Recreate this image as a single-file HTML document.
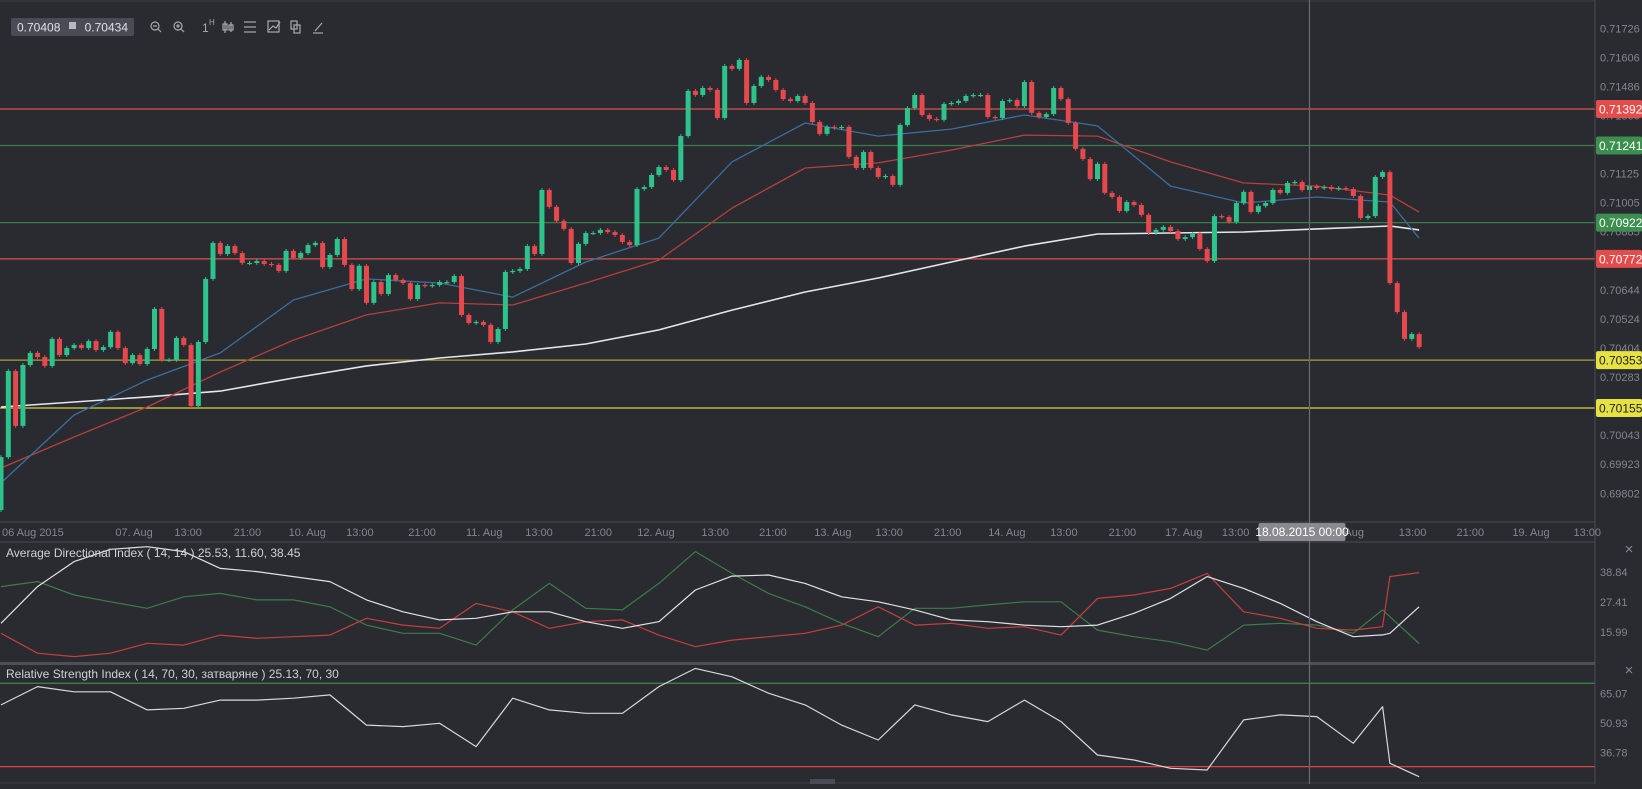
<!DOCTYPE html>
<html><head><meta charset="utf-8"><style>
html,body{margin:0;padding:0;background:#2a2a31;}
body{width:1642px;height:784px;overflow:hidden;position:relative;font-family:"Liberation Sans","DejaVu Sans",sans-serif;}
svg text{font-family:"Liberation Sans","DejaVu Sans",sans-serif;}
</style></head><body>
<svg id="chart" width="1642" height="784" viewBox="0 0 1642 784" xmlns="http://www.w3.org/2000/svg">
<rect x="0" y="0" width="1642" height="784" fill="#2a2a31"/>
<g id="main"></g>
<g id="adx"></g>
<g id="rsi"></g>
<g id="frame">
<line x1="0" y1="1" x2="1595" y2="1" stroke="#3c3c44"/>
<line x1="1595" y1="0" x2="1595" y2="784" stroke="#4a4a52"/>
<line x1="0" y1="522" x2="1595" y2="522" stroke="#4a4a52"/>
<line x1="0" y1="542" x2="1595" y2="542" stroke="#4a4a52"/>
<rect x="0" y="662" width="1595" height="3" fill="#4f4f57"/>
<line x1="0" y1="783" x2="1595" y2="783" stroke="#3c3c44"/>
<rect x="810" y="779" width="25" height="5" fill="#4a4a55"/>
<text x="1629" y="554" fill="#8a8a93" font-size="15" text-anchor="middle">×</text>
<text x="1629" y="675" fill="#8a8a93" font-size="15" text-anchor="middle">×</text>
<text x="6" y="557" fill="#d0d0d6" font-size="12">Average Directional Index ( 14, 14 ) 25.53, 11.60, 38.45</text>
<text x="6" y="678" fill="#d0d0d6" font-size="12">Relative Strength Index ( 14, 70, 30, затваряне ) 25.13, 70, 30</text>
</g>
<g id="toolbar">
<rect x="11" y="18" width="123" height="18" rx="2" fill="#4b4b55"/>
<text x="17" y="31.5" fill="#e0e0e6" font-size="12">0.70408</text>
<rect x="69" y="22" width="7" height="7" fill="#b8b8c0"/>
<text x="128" y="31.5" fill="#e0e0e6" font-size="12" text-anchor="end">0.70434</text>
<g fill="none" stroke="#a8a8b0" stroke-width="1.2">
<g><circle cx="155" cy="26" r="4"/><line x1="158" y1="29" x2="161" y2="32"/><line x1="153" y1="26" x2="157" y2="26"/></g>
<g><circle cx="178" cy="26" r="4"/><line x1="181" y1="29" x2="184" y2="32"/><line x1="176" y1="26" x2="180" y2="26"/><line x1="178" y1="24" x2="178" y2="28"/></g>
<g><line x1="225" y1="21" x2="225" y2="33"/><rect x="223" y="24" width="4" height="6"/><line x1="231" y1="22" x2="231" y2="32"/><rect x="229" y="25" width="4" height="5"/></g>
<g><line x1="244" y1="22" x2="256" y2="22"/><line x1="244" y1="27" x2="256" y2="27"/><line x1="244" y1="32" x2="256" y2="32"/></g>
<g><rect x="268" y="21" width="11" height="11"/><polyline points="269,30 273,26 276,28 280,22"/></g>
<g><rect x="291" y="21" width="6" height="8"/><rect x="294" y="25" width="6" height="8"/></g>
<g><line x1="315" y1="31" x2="322" y2="23"/><line x1="313" y1="33" x2="323" y2="33"/></g>
</g>
<text x="202" y="32" fill="#a8a8b0" font-size="12">1</text>
<text x="209" y="25" fill="#a8a8b0" font-size="8">H</text>
</g>
</svg>
<script>
// ---------- data ----------
const firstOpen = 0.69733;
const closes = [0.69952,0.70308,0.70081,0.70333,0.70383,0.70366,0.70329,0.70441,0.70374,0.70403,
0.70416,0.70403,0.70432,0.70395,0.70407,0.70470,0.70403,0.70341,0.70374,0.70337,
0.70399,0.70565,0.70354,0.70354,0.70445,0.70416,0.70163,0.70428,0.70689,0.70838,
0.70792,0.70825,0.70796,0.70755,0.70755,0.70763,0.70751,0.70747,0.70722,0.70805,
0.70776,0.70796,0.70829,0.70838,0.70738,0.70788,0.70854,0.70747,0.70647,0.70743,
0.70590,0.70676,0.70627,0.70705,0.70685,0.70672,0.70606,0.70664,0.70660,0.70664,
0.70676,0.70676,0.70701,0.70540,0.70507,0.70511,0.70499,0.70428,0.70482,0.70718,
0.70722,0.70730,0.70825,0.70792,0.71057,0.70987,0.70929,0.70896,0.70755,0.70834,
0.70879,0.70879,0.70892,0.70883,0.70871,0.70842,0.70829,0.71061,0.71069,0.71119,
0.71152,0.71140,0.71098,0.71280,0.71467,0.71450,0.71479,0.71471,0.71355,0.71570,
0.71558,0.71595,0.71417,0.71487,0.71525,0.71512,0.71471,0.71433,0.71425,0.71446,
0.71417,0.71338,0.71289,0.71318,0.71313,0.71318,0.71194,0.71148,0.71214,0.71148,
0.71111,0.71115,0.71078,0.71326,0.71396,0.71450,0.71367,0.71351,0.71347,0.71413,
0.71417,0.71425,0.71446,0.71450,0.71450,0.71359,0.71355,0.71425,0.71429,0.71404,
0.71504,0.71376,0.71359,0.71371,0.71479,0.71433,0.71334,0.71227,0.71185,0.71102,
0.71165,0.71045,0.71028,0.70970,0.71007,0.70995,0.70954,0.70879,0.70892,0.70904,
0.70887,0.70854,0.70862,0.70875,0.70813,0.70763,0.70949,0.70945,0.70925,0.71003,
0.71049,0.70966,0.70991,0.71003,0.71057,0.71045,0.71086,0.71090,0.71057,0.71073,
0.71065,0.71069,0.71061,0.71065,0.71061,0.71032,0.70941,0.70949,0.71111,0.71131,
0.70672,0.70552,0.70441,0.70461,0.70407];
const wick = 0.00008;

const maIdx = [0,10,20,30,40,50,60,70,80,90,100,110,120,130,140,150,160,170,180,190,194];
const maFast = [0.69845,0.70126,0.70271,0.70383,0.70602,0.70689,0.70672,0.70614,0.70759,0.70858,0.71173,0.71334,0.71280,0.71309,0.71367,0.71322,0.71073,0.71003,0.71028,0.71007,0.70858];
const maMid = [0.69907,0.70035,0.70159,0.70304,0.70436,0.70540,0.70590,0.70581,0.70672,0.70767,0.70982,0.71148,0.71169,0.71222,0.71284,0.71280,0.71173,0.71086,0.71073,0.71036,0.70966];
const maSlow = [0.70159,0.70180,0.70201,0.70225,0.70279,0.70329,0.70362,0.70387,0.70420,0.70478,0.70560,0.70635,0.70693,0.70759,0.70825,0.70875,0.70879,0.70883,0.70896,0.70908,0.70892];

const levelPrices = [0.71392,0.71241,0.70922,0.70772,0.70353,0.70155];
const levelKinds = ['red','green','green','red','olive','yellow'];
const priceTicks = [0.71726,0.71606,0.71486,0.71366,0.71125,0.71005,0.70885,0.70644,0.70524,0.70404,0.70283,0.70043,0.69923,0.69802];

const indIdx = [0,5,10,15,20,25,30,35,40,45,50,55,60,65,70,75,80,85,90,95,100,105,110,115,120,125,130,135,140,145,150,155,160,165,170,175,180,185,189,190,194];
const adxLine = [19.3,33.3,42.8,47.5,48.5,46.6,40.2,39.0,37.1,35.2,28.2,23.7,20.6,21.2,23.7,23.7,19.9,17.4,19.9,32.0,37.3,37.7,34.5,29.4,27.5,24.4,20.6,19.9,18.6,18.0,18.6,23.1,28.8,37.1,32.6,26.9,19.9,14.2,14.9,15.5,25.6];
const plusDI = [33.3,35.2,30.1,27.5,25.0,29.4,30.7,28.2,28.2,25.6,18.6,15.5,15.5,11.0,24.4,34.5,25.0,24.4,34.5,46.6,38.3,30.7,25.6,19.3,14.2,25.0,25.0,26.3,27.5,27.5,16.7,14.2,12.3,9.1,18.6,19.3,18.6,15.5,24.4,21.8,11.6];
const minusDI = [15.5,7.9,6.6,7.9,11.7,11.0,14.8,13.6,14.2,14.8,21.2,18.6,17.4,26.9,23.7,17.4,19.9,20.6,14.8,10.4,12.9,14.2,15.5,18.6,25.6,18.6,19.3,17.4,18.0,14.8,28.8,30.1,32.6,38.3,23.7,21.2,17.4,16.7,18.0,37.1,38.6];
const adxTicks = [38.84,27.41,15.99];
const rsiValues = [59.6,68.4,65.9,65.9,57.2,58.0,61.9,61.9,62.8,64.4,49.9,49.2,50.8,39.6,62.8,57.2,55.6,55.6,68.4,77.1,73.1,65.2,59.6,49.9,42.8,59.6,54.8,51.6,61.9,51.6,35.6,33.2,29.2,28.4,52.4,54.8,54.0,41.2,58.8,31.6,25.2];
const rsiTicks = [65.07,50.93,36.78];
const rsiLevels = [70,30];

const timeLabels = ['07. Aug','13:00','21:00','10. Aug','13:00','21:00','11. Aug','13:00','21:00','12. Aug','13:00','21:00','13. Aug','13:00','21:00','14. Aug','13:00','21:00','17. Aug','13:00','18. Aug','13:00','21:00','19. Aug','13:00'];
const timeLabelIdx = [18.2,25.6,33.7,41.9,49.1,57.6,66.1,73.6,81.7,89.6,97.7,105.6,113.8,121.5,129.5,137.6,145.4,153.4,161.8,168.9,183.9,193.1,201,209.3,217];
const crossIdx = 179;
const crossLabel = '18.08.2015 00:00';

// ---------- scales ----------
const NS = 'http://www.w3.org/2000/svg';
function xS(i){ return 1 + i*7.31; }
function yP(p){ return 109 + (0.71392 - p)*24172; }
function yA(v){ return 632 - (v - 15.99)*2.625; }
function yR(v){ return 723 - (v - 50.93)*2.086; }
function mk(tag, attrs, parent){
  const e = document.createElementNS(NS, tag);
  for (const k in attrs) e.setAttribute(k, attrs[k]);
  parent.appendChild(e);
  return e;
}
const main = document.getElementById('main');
const adx = document.getElementById('adx');
const rsi = document.getElementById('rsi');
const svg = document.getElementById('chart');

// clip paths
const defs = mk('defs', {}, svg);
const c1 = mk('clipPath', {id:'cm'}, defs); mk('rect',{x:0,y:2,width:1595,height:520},c1);
const c2 = mk('clipPath', {id:'ca'}, defs); mk('rect',{x:0,y:543,width:1595,height:119},c2);
const c3 = mk('clipPath', {id:'cr'}, defs); mk('rect',{x:0,y:665,width:1595,height:118},c3);
main.setAttribute('clip-path','url(#cm)');
adx.setAttribute('clip-path','url(#ca)');
rsi.setAttribute('clip-path','url(#cr)');

// level lines
const levelColor = {red:'#d9534f', green:'#3b7d48', olive:'#a6a23a', yellow:'#d8d43c'};
levelPrices.forEach((p,k)=>{
  const l = mk('line',{x1:0,x2:1595,y1:yP(p),y2:yP(p),stroke:levelColor[levelKinds[k]],'stroke-width':1.2}, main);
  
  
});

// moving averages
function maLine(vals, color, name, width){
  const pts = vals.map((v,k)=>xS(maIdx[k]).toFixed(1)+','+yP(v).toFixed(1)).join(' ');
  const pl = mk('polyline',{points:pts,fill:'none',stroke:color,'stroke-width':width,'stroke-linejoin':'round'}, main);
  
  
}
maLine(maSlow,'#e6e6ea','ma-slow-line',1.6);
maLine(maMid,'#b5403c','ma-mid-line',1.3);
maLine(maFast,'#3a6f9e','ma-fast-line',1.3);

// candles
let prev = firstOpen;
closes.forEach((c,i)=>{
  const o = prev; prev = c;
  const up = c >= o;
  const col = up ? '#2fc38c' : '#e5484d';
  const x = xS(i);
  const hi = Math.max(o,c)+wick, lo = Math.min(o,c)-wick;
  const g = mk('g',{}, main);
  
  
  mk('line',{x1:x,x2:x,y1:yP(hi),y2:yP(lo),stroke:col,'stroke-width':1}, g);
  const top = yP(Math.max(o,c)), bot = yP(Math.min(o,c));
  mk('rect',{x:x-2.5,y:top,width:5,height:Math.max(1.2,bot-top),fill:col}, g);
});

// price axis ticks
priceTicks.forEach(p=>{
  const t = mk('text',{x:1600,y:yP(p)+4,fill:'#85858e','font-size':11}, svg);
  t.textContent = p.toFixed(5);
  
  
});
const boxFill = {red:'#e24c4b', green:'#3d8f4f', olive:'#e6e245', yellow:'#e6e245'};
levelPrices.forEach((p,k)=>{
  const kind = levelKinds[k];
  const g = mk('g',{}, svg);
  
  
  mk('rect',{x:1596,y:yP(p)-9,width:46,height:18,rx:2,fill:boxFill[kind]}, g);
  const t = mk('text',{x:1599,y:yP(p)+4.5,fill:(kind==='olive'||kind==='yellow')?'#222':'#ffffff','font-size':12}, g);
  t.textContent = p.toFixed(5);
});

// time axis
timeLabels.forEach((s,k)=>{
  const t = mk('text',{x:xS(timeLabelIdx[k]),y:536,fill:'#85858e','font-size':11,'text-anchor':'middle'}, svg);
  t.textContent = s;
  
  
});
const t0 = mk('text',{x:2,y:536,fill:'#85858e','font-size':11}, svg);
t0.textContent = '06 Aug 2015';



// ADX panel
function indLine(vals, yf, color, parent, name){
  const pts = vals.map((v,k)=>xS(indIdx[k]).toFixed(1)+','+yf(v).toFixed(1)).join(' ');
  const pl = mk('polyline',{points:pts,fill:'none',stroke:color,'stroke-width':1.2,'stroke-linejoin':'round'}, parent);
  
  
}
indLine(plusDI, yA, '#3b7d48', adx, 'plus-di-line');
indLine(minusDI, yA, '#c5403c', adx, 'minus-di-line');
indLine(adxLine, yA, '#e2e2e6', adx, 'adx-line');
adxTicks.forEach(v=>{
  const t = mk('text',{x:1600,y:yA(v)+4,fill:'#85858e','font-size':11}, svg);
  t.textContent = v.toFixed(2);
  
  
});

// RSI panel
rsiLevels.forEach((v,k)=>{
  const l = mk('line',{x1:0,x2:1595,y1:yR(v),y2:yR(v),stroke:k===0?'#3b8a4a':'#e0463f','stroke-width':1.2}, rsi);
  
  
});
indLine(rsiValues, yR, '#d8d8dc', rsi, 'rsi-line');
rsiTicks.forEach(v=>{
  const t = mk('text',{x:1600,y:yR(v)+4,fill:'#85858e','font-size':11}, svg);
  t.textContent = v.toFixed(2);
  
  
});

// crosshair
const cx = xS(crossIdx);
const ch = mk('line',{x1:cx,x2:cx,y1:0,y2:784,stroke:'#6a6a70','stroke-width':1.2}, svg);


const cb = mk('rect',{x:cx-51,y:523,width:87,height:18,rx:2,fill:'#8a8a8e'}, svg);


const ct = mk('text',{x:cx-7.5,y:536,fill:'#ffffff','font-size':12,'text-anchor':'middle'}, svg);
ct.textContent = crossLabel;


// toolbar on top
svg.appendChild(document.getElementById('toolbar'));
</script>
</body></html>
